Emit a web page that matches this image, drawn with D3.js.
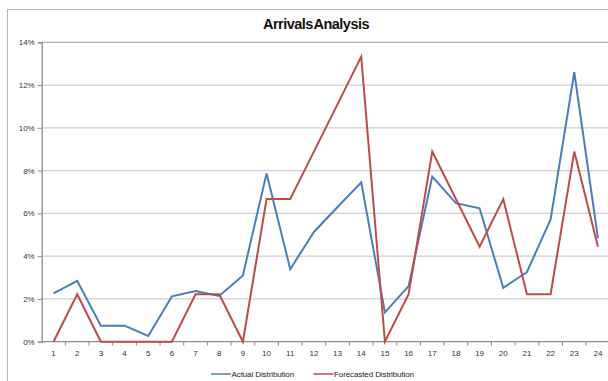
<!DOCTYPE html>
<html>
<head>
<meta charset="utf-8">
<script src="https://cdn.jsdelivr.net/npm/d3@7"></script>
<style>
  html, body { margin: 0; padding: 0; background: #fff; }
  svg { display: block; font-family: "Liberation Sans", Arial, sans-serif; }
</style>
</head>
<body>
<svg id="chart" width="608" height="381"></svg>
<script>
// Hourly slots on the x axis
const categories = ["1","2","3","4","5","6","7","8","9","10","11","12",
                    "13","14","15","16","17","18","19","20","21","22","23","24"];
// Share of arrivals per slot (fractions)
const actual = [0.0226, 0.0285, 0.0075, 0.0075, 0.0027, 0.0212, 0.0237, 0.0214,
                0.0310, 0.0787, 0.0339, 0.0513, 0.0630, 0.0745, 0.0137, 0.0260,
                0.0772, 0.0648, 0.0624, 0.0252, 0.0326, 0.0572, 0.1260, 0.0484];
const forecast = [0, 0.0222, 0, 0, 0, 0, 0.0222, 0.0222,
                  0, 0.0667, 0.0667, 0.0889, 0.1111, 0.1333, 0, 0.0222,
                  0.0889, 0.0667, 0.0444, 0.0667, 0.0222, 0.0222, 0.0889, 0.0444];
const yTicks = [0, 0.02, 0.04, 0.06, 0.08, 0.10, 0.12, 0.14];
const seriesNames = ["Actual Distribution", "Forecasted Distribution"];
const seriesColors = ["#4A7EBB", "#BE4B48"];

const svg = d3.select("#chart");

// Outer chart frame
svg.append("rect")
  .attr("x", 7.5).attr("y", 9.5)
  .attr("width", 640).attr("height", 400)
  .attr("fill", "#fff").attr("stroke", "#b8b8b8").attr("stroke-width", 1);

const plotLeft = 41.7, plotTop = 42.3, plotBottom = 341.7, step = 23.67;
const x = d3.scaleBand().domain(categories).range([plotLeft, plotLeft + step * categories.length]).padding(0);
const y = d3.scaleLinear().domain([0, 0.14]).range([plotBottom, plotTop]);

// Title
svg.append("text")
  .attr("x", 316).attr("y", 28.5)
  .attr("text-anchor", "middle")
  .attr("font-size", 14.5).attr("font-weight", "bold")
  .attr("letter-spacing", -0.5)
  .attr("word-spacing", -2.5)
  .attr("fill", "#111")
  .text("Arrivals Analysis");

// Horizontal gridlines
svg.append("g").selectAll("line")
  .data(yTicks.filter(d => d > 0))
  .join("line")
  .attr("x1", plotLeft).attr("x2", 608)
  .attr("y1", d => y(d)).attr("y2", d => y(d))
  .attr("stroke", d => d === 0.14 ? "#b0b0b0" : "#cfcfcf")
  .attr("stroke-width", 1.3);

// Y axis
const yAxis = d3.axisLeft(y)
  .tickValues(yTicks)
  .tickFormat(d3.format(".0%"))
  .tickSize(4).tickPadding(3);
const gy = svg.append("g").attr("transform", `translate(${plotLeft},0)`).call(yAxis);
gy.select(".domain").attr("stroke", "#8c8c8c").attr("stroke-width", 1.3);
gy.selectAll(".tick line").attr("stroke", "#8c8c8c");
gy.selectAll(".tick text").attr("font-size", 8).attr("fill", "#333")
  .attr("font-family", "Liberation Sans, Arial, sans-serif");

// X axis: ticks between categories, labels centred in each band
const gx = svg.append("g").attr("transform", `translate(0,${plotBottom})`);
gx.append("line")
  .attr("x1", plotLeft).attr("x2", 608).attr("y1", 0).attr("y2", 0)
  .attr("stroke", "#8c8c8c").attr("stroke-width", 1.3);
gx.selectAll("line.tk")
  .data(categories)
  .join("line").attr("class", "tk")
  .attr("x1", d => x(d) + x.bandwidth()).attr("x2", d => x(d) + x.bandwidth())
  .attr("y1", 0).attr("y2", 4)
  .attr("stroke", "#8c8c8c");
gx.selectAll("text")
  .data(categories)
  .join("text")
  .attr("x", d => x(d) + x.bandwidth() / 2)
  .attr("y", 14.5)
  .attr("text-anchor", "middle")
  .attr("font-size", 8).attr("fill", "#333")
  .text(d => d);

// Series lines
const line = d3.line()
  .x((d, i) => x(categories[i]) + x.bandwidth() / 2)
  .y(d => y(d));
[actual, forecast].forEach((vals, k) => {
  svg.append("path")
    .datum(vals)
    .attr("fill", "none")
    .attr("stroke", seriesColors[k])
    .attr("stroke-width", 2)
    .attr("stroke-linejoin", "miter")
    .attr("d", line);
});

// Legend
const legendX = [211, 313.5];
const lg = svg.append("g");
seriesNames.forEach((name, k) => {
  lg.append("line")
    .attr("x1", legendX[k]).attr("x2", legendX[k] + 20)
    .attr("y1", 374).attr("y2", 374)
    .attr("stroke", seriesColors[k]).attr("stroke-width", 1.5);
  lg.append("text")
    .attr("x", legendX[k] + 20.5).attr("y", 377)
    .attr("font-size", 8).attr("letter-spacing", -0.1)
    .attr("fill", "#222")
    .text(name);
});
</script>
</body>
</html>
